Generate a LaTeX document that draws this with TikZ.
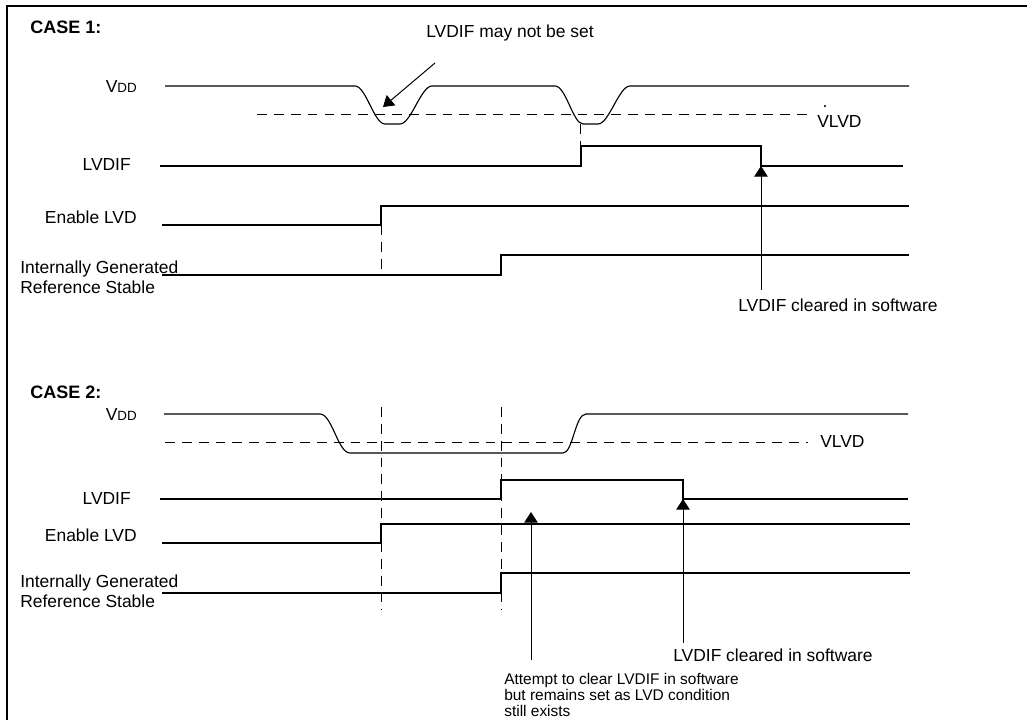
\documentclass[tikz,border=0pt]{standalone}
\usepackage{fontspec}
\setsansfont{Liberation Sans}
\usetikzlibrary{arrows.meta}
\tikzset{
  lbl/.style = {inner sep=0pt, font=\sffamily\fontsize{12.4}{14.5}\selectfont},
  note/.style = {lbl, align=left, font=\sffamily\fontsize{12}{15}\selectfont},
  casehead/.style = {lbl, anchor=west, font=\sffamily\bfseries\fontsize{12.8}{14}\selectfont},
  sig/.style = {line width=0.8pt},
  thr/.style = {line width=0.7pt, dash pattern=on 7pt off 5pt},% threshold VLVD
  guide/.style = {line width=0.7pt, dash pattern=on 7pt off 5pt},% vertical markers
  pointer/.style = {-{Triangle[width=9.5pt,length=7.5pt]}, line width=0.7pt}
}
\newcommand{\vddlbl}{V{\fontsize{9.5}{9.5}\selectfont DD}}

\begin{document}
\begin{tikzpicture}[x=0.025cm, y=-0.025cm]
\useasboundingbox (0,0) rectangle (1027,720);
\draw[line width=1.4pt] (7,720) -- (7,6) -- (1027,6);

% CASE 1
\node[casehead] (case1) at (30,27) {CASE 1:};
\node[lbl, anchor=east] (vdd1) at (137,87) {\vddlbl};
\node[lbl, anchor=east] (lvdif1) at (131,165) {LVDIF};
\node[lbl, anchor=east] (en1) at (137,217) {Enable LVD};
\node[lbl, anchor=west, align=left] (ref1) at (20,277) {Internally Generated\\Reference Stable};
\node[lbl, anchor=west] (vlvd1) at (817,122) {VLVD};
\node[lbl] (dot1) at (825,107) {.};
\node[lbl] (maynot) at (510,33) {LVDIF may not be set};
\node[lbl, anchor=west] (clr1) at (738,305) {LVDIF cleared in software};

\draw[sig] (165,86) -- (355,86) .. controls (366,86) and (374,124) .. (385,124)
  -- (400,124) .. controls (411,124) and (421,86) .. (432,86)
  -- (555,86) .. controls (566,86) and (573,124) .. (583,124)
  -- (598,124) .. controls (609,124) and (619,86) .. (630,86) -- (909,86);
\draw[thr] (257,114) -- (807,114);
\draw[sig] (160,166) -- (581,166) -- (581,146) -- (761,146) -- (761,166) -- (903,166);
\draw[sig] (162,225) -- (381,225) -- (381,206) -- (909,206);
\draw[sig] (162,275) -- (501,275) -- (501,255) -- (909,255);
\draw[guide] (381,225) -- (381,275);
\draw[guide] (580,124) -- (580,146);

\coordinate (maytail) at (435,63);
\coordinate (dip1) at (383,107);
\draw[pointer] (maytail) -- (dip1);
\coordinate (clr1tail) at (761,290);
\coordinate (clr1tip) at (761,166);
\draw[pointer] (clr1tail) -- (clr1tip);

% CASE 2
\node[casehead] (case2) at (30,392) {CASE 2:};
\node[lbl, anchor=east] (vdd2) at (137,415) {\vddlbl};
\node[lbl, anchor=east] (lvdif2) at (131,499) {LVDIF};
\node[lbl, anchor=east] (en2) at (137,535) {Enable LVD};
\node[lbl, anchor=west, align=left] (ref2) at (20,591) {Internally Generated\\Reference Stable};
\node[lbl, anchor=west] (vlvd2) at (820,442) {VLVD};
\node[lbl, anchor=west] (clr2) at (673,655) {LVDIF cleared in software};
\node[note, anchor=north west, font=\sffamily\fontsize{11}{11.5}\selectfont] (attempt) at (504,673)
  {Attempt to clear LVDIF in software\\but remains set as LVD condition\\still exists};

\draw[sig] (164,414) -- (320,414) .. controls (332,414) and (338,453) .. (350,453)
  -- (563,453) .. controls (573,453) and (575,414) .. (586,414) -- (908,414);
\draw[thr] (165,442) -- (808,442);
\draw[guide] (381,407) -- (381,610);
\draw[guide] (501,407) -- (501,610);
\draw[sig] (160,499) -- (501,499) -- (501,480) -- (683,480) -- (683,499) -- (908,499);
\draw[sig] (162,543) -- (381,543) -- (381,524) -- (910,524);
\draw[sig] (162,593) -- (501,593) -- (501,573) -- (910,573);

\coordinate (trytail) at (531,660);
\coordinate (trytip) at (531,512);
\draw[pointer] (trytail) -- (trytip);
\coordinate (clr2tail) at (683,643);
\coordinate (clr2tip) at (683,499);
\draw[pointer] (clr2tail) -- (clr2tip);
\end{tikzpicture}
\end{document}
